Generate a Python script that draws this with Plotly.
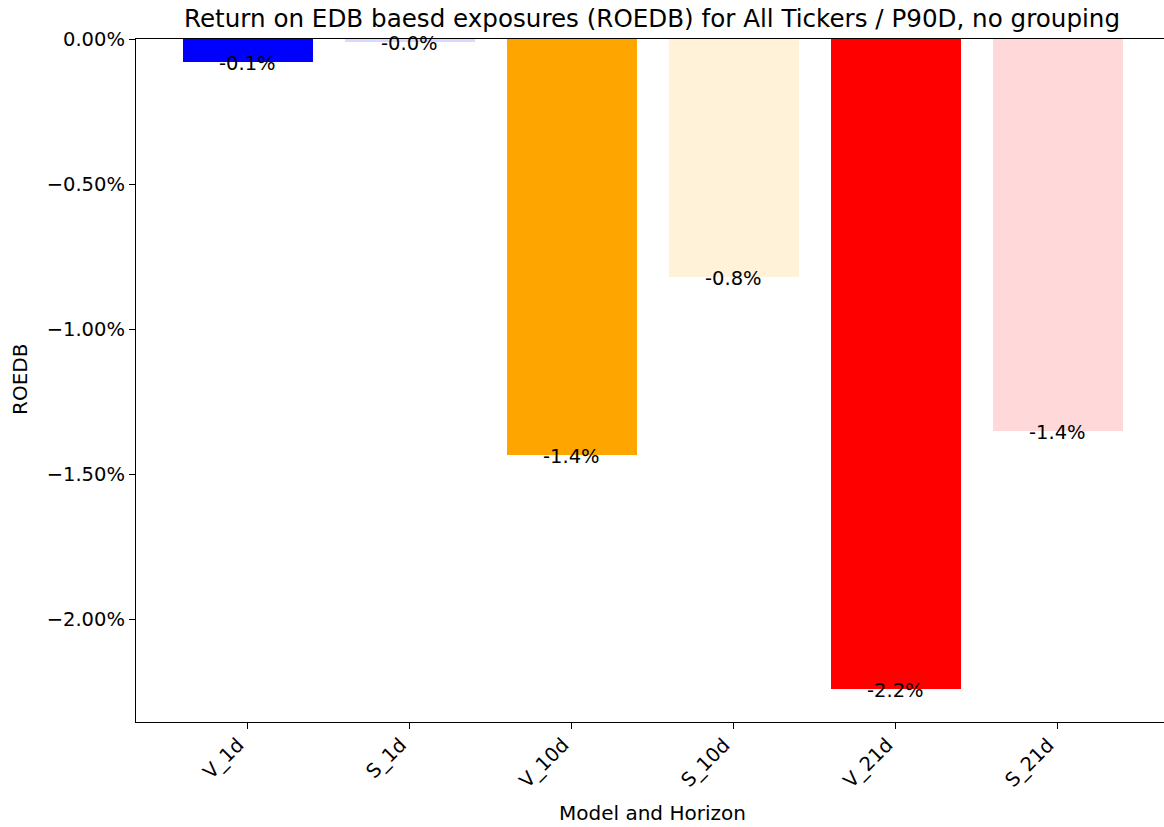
import plotly.graph_objects as go

categories = ["V_1d", "S_1d", "V_10d", "S_10d", "V_21d", "S_21d"]
roedb_pct = [-0.080, -0.012, -1.434, -0.821, -2.241, -1.352]
bar_labels = ["-0.1%", "-0.0%", "-1.4%", "-0.8%", "-2.2%", "-1.4%"]
bar_colors = ["#0000FF", "rgba(0,0,255,0.15)", "#FFA500", "rgba(255,165,0,0.15)",
              "#FF0000", "rgba(255,0,0,0.15)"]
y_tickvals = [0.0, -0.5, -1.0, -1.5, -2.0]
y_ticktext = ["0.00%", "\u22120.50%", "\u22121.00%", "\u22121.50%", "\u22122.00%"]

FONT = "DejaVu Sans"
W, H = 1164, 827
L, R, T, B = 136, 0, 39, 105

fig = go.Figure()
fig.add_trace(go.Bar(
    x=list(range(len(categories))), y=roedb_pct, width=0.8,
    marker=dict(color=bar_colors, line=dict(width=0)),
    hoverinfo="skip", showlegend=False,
))

for i, (v, t) in enumerate(zip(roedb_pct, bar_labels)):
    fig.add_annotation(x=i, y=v, xref="x", yref="y", text=t, showarrow=False,
                       xanchor="center", yanchor="middle", yshift=-1,
                       font=dict(family=FONT, size=19.5, color="black"))

# rotated category labels (right-aligned to the tick, like the reference)
for i, c in enumerate(categories):
    fig.add_annotation(x=i, y=0, xref="x", yref="paper", text=c, showarrow=False,
                       textangle=-45, xanchor="right", yanchor="top", yshift=-9,
                       xshift=4,
                       font=dict(family=FONT, size=19.5, color="black"))

fig.add_annotation(text="Model and Horizon", xref="paper", yref="paper",
                   x=(652 - L) / (W - L - R), y=0, yshift=-(813 - (H - B)),
                   xanchor="center", yanchor="middle", showarrow=False,
                   font=dict(family=FONT, size=20, color="black"))
fig.add_annotation(text="ROEDB", xref="paper", yref="paper",
                   x=0, xshift=-(L - 20), y=1 - (380 - T) / (H - T - B),
                   xanchor="center", yanchor="middle", textangle=-90, showarrow=False,
                   font=dict(family=FONT, size=20, color="black"))

fig.update_layout(
    width=W, height=H,
    margin=dict(l=L, r=R, t=T, b=B, autoexpand=False),
    paper_bgcolor="white", plot_bgcolor="white",
    title=dict(text="Return on EDB baesd exposures (ROEDB) for All Tickers / P90D, no grouping",
               x=652 / W, xanchor="center", y=1 - 18 / H, yanchor="middle",
               xref="container", yref="container",
               font=dict(family=FONT, size=24.6, color="black")),
    bargap=0,
)
fig.update_xaxes(
    range=[-0.69, 5.656], tickmode="array", tickvals=list(range(len(categories))),
    ticktext=categories, showticklabels=False, ticks="outside", ticklen=6, tickwidth=1.3,
    tickcolor="black", showline=True, linecolor="black", linewidth=1.3, mirror=True,
    showgrid=False, zeroline=False,
)
fig.update_yaxes(
    range=[-2.3535, 0], tickmode="array", tickvals=y_tickvals, ticktext=y_ticktext,
    ticks="outside", ticklen=6, tickwidth=1.3, tickcolor="black",
    showline=True, linecolor="black", linewidth=1.3, mirror=False,
    showgrid=False, zeroline=False,
    tickfont=dict(family=FONT, size=19.5, color="black"),
)

fig.write_html("out.html", config={"displayModeBar": False},
               post_script="document.body.style.margin='0';document.body.style.overflow='hidden';")
